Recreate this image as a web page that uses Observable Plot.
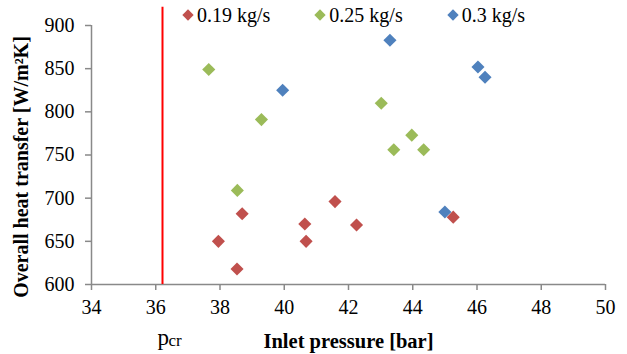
<!DOCTYPE html>
<html>
<head>
<meta charset="utf-8">
<script src="https://cdn.jsdelivr.net/npm/d3@7"></script>
<script src="https://cdn.jsdelivr.net/npm/@observablehq/plot@0.6"></script>
<style>
  html, body { margin: 0; padding: 0; background: #fff; }
  #wrap { position: relative; width: 627px; height: 354px; font-family: "Liberation Serif", "Times New Roman", serif; }
  #wrap svg, #wrap svg text { font-family: "Liberation Serif", "Times New Roman", serif !important; }
  #legend { position: absolute; left: 182px; top: 5px; display: flex; gap: 44px; font-size: 20px; line-height: 20px; color: #000; white-space: nowrap; }
  #legend .item { display: flex; align-items: center; }
  #legend .sw { width: 8px; height: 8px; transform: rotate(45deg); margin: 0 5px 0 2px; }
</style>
</head>
<body>
<div id="wrap"><div id="legend"></div></div>
<script>
// Series (mass flow rates)
const seriesNames = ["0.19 kg/s", "0.25 kg/s", "0.3 kg/s"];
const seriesColors = ["#C0504D", "#9BBB59", "#4F81BD"];

// 0.19 kg/s
const pressure019 = [37.95, 38.53, 38.69, 40.64, 40.68, 41.58, 42.25, 45.26];
const htc019 = [650, 618, 682, 670, 650, 696, 669, 678];
// 0.25 kg/s
const pressure025 = [37.65, 38.54, 39.29, 43.02, 43.41, 43.97, 44.34];
const htc025 = [849, 709, 791, 810, 756, 773, 756];
// 0.3 kg/s
const pressure03 = [39.95, 43.29, 45.0, 46.03, 46.25];
const htc03 = [825, 883, 684, 852, 840];

// Critical pressure
const pCritical = [36.21];
const pCriticalTop = 921;

const xTicks = [34, 36, 38, 40, 42, 44, 46, 48, 50];
const yTicks = [600, 650, 700, 750, 800, 850, 900];

const xLabel = "Inlet pressure [bar]";
const yLabel = "Overall heat transfer [W/m\u00B2K]";

const data = [
  ...pressure019.map((p, i) => ({series: seriesNames[0], pressure: p, htc: htc019[i]})),
  ...pressure025.map((p, i) => ({series: seriesNames[1], pressure: p, htc: htc025[i]})),
  ...pressure03.map((p, i) => ({series: seriesNames[2], pressure: p, htc: htc03[i]}))
];

const axisGray = "#898989";
const serif = "Liberation Serif, Times New Roman, serif";

const chart = Plot.plot({
  width: 627,
  height: 354,
  marginLeft: 91,
  marginRight: 22,
  marginTop: 25,
  marginBottom: 70,
  style: {fontFamily: serif, fontSize: "20px", color: "#000", background: "#fff", overflow: "visible"},
  x: {domain: [34, 50]},
  y: {domain: [600, 900]},
  color: {domain: seriesNames, range: seriesColors},
  marks: [
    Plot.axisX({ticks: xTicks, tickSize: 6, tickPadding: 9, stroke: axisGray, strokeWidth: 1.5, fill: "#000", fontSize: 20, fontFamily: serif, label: null}),
    Plot.axisY({ticks: yTicks, tickSize: 6, tickPadding: 11, stroke: axisGray, strokeWidth: 1.5, fill: "#000", fontSize: 20, fontFamily: serif, label: null}),
    Plot.ruleY([600], {stroke: axisGray, strokeWidth: 1.5}),
    Plot.ruleX([34], {stroke: axisGray, strokeWidth: 1.5}),
    Plot.ruleX(pCritical, {x: d => d, y1: 600, y2: pCriticalTop, stroke: "#FF0000", strokeWidth: 2, clip: false}),
    Plot.dot(data, {x: "pressure", y: "htc", fill: "series", symbol: "diamond2", r: 5.9, stroke: null}),
    Plot.text([xLabel], {frameAnchor: "bottom", dy: 57, fontWeight: "bold", fontSize: 20.5, fontFamily: serif, textAnchor: "middle", lineAnchor: "middle", fill: "#000"}),
    Plot.text([yLabel], {frameAnchor: "left", rotate: -90, dx: -70, dy: 12, fontWeight: "bold", fontSize: 20, fontFamily: serif, textAnchor: "middle", lineAnchor: "middle", fill: "#000"}),
    Plot.text(pCritical, {x: d => d, frameAnchor: "bottom", text: () => "p", dx: -5, dy: 53, fontSize: 23, fontFamily: serif, textAnchor: "start", lineAnchor: "middle", fill: "#000"}),
    Plot.text(pCritical, {x: d => d, frameAnchor: "bottom", text: () => "cr", dx: 6, dy: 56, fontSize: 17, fontFamily: serif, textAnchor: "start", lineAnchor: "middle", fill: "#000"})
  ]
});

document.getElementById("wrap").prepend(chart);

const legend = d3.select("#legend");
seriesNames.forEach((name, i) => {
  const item = legend.append("div").attr("class", "item");
  item.append("div").attr("class", "sw").style("background", seriesColors[i]);
  item.append("span").text(name);
});
</script>
</body>
</html>
